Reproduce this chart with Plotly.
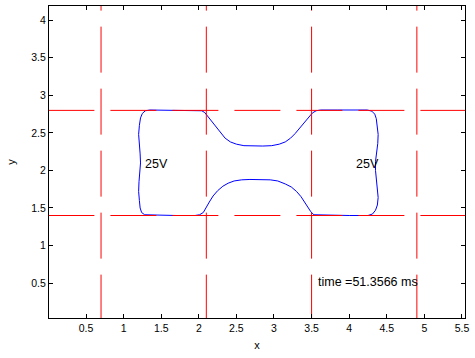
import plotly.graph_objects as go

# electrode (red dashed) line positions
electrode_x = [0.7, 2.1, 3.5, 4.9]
electrode_y = [1.4, 2.8]
line_span_x = [0.0, 5.6]
line_span_y = [0.0, 4.2]

# blue interface boundary (closed loop)
boundary_x = [1.35, 1.60, 1.85, 1.98,
              2.04, 2.08, 2.12, 2.17, 2.23, 2.29, 2.35, 2.42, 2.50, 2.60, 2.72, 2.85, 2.97, 3.07, 3.15, 3.22,
              3.28, 3.35, 3.41, 3.46, 3.51, 3.56, 3.62,
              3.85, 4.10, 4.24,
              4.30, 4.34, 4.36,
              4.375, 4.385, 4.38, 4.36, 4.35, 4.35, 4.36, 4.38, 4.385, 4.375, 4.35, 4.31, 4.25,
              4.00, 3.75, 3.60,
              3.53, 3.49, 3.45, 3.41, 3.36, 3.30, 3.23, 3.15, 3.05, 2.95, 2.82, 2.68, 2.57, 2.47, 2.39, 2.32,
              2.25, 2.19, 2.14, 2.10, 2.06, 2.01, 1.95,
              1.70, 1.45, 1.34,
              1.28, 1.24, 1.22,
              1.21, 1.20, 1.205, 1.22, 1.225, 1.22, 1.21, 1.20, 1.21, 1.225, 1.25, 1.29, 1.35]
boundary_y = [2.805, 2.805, 2.805, 2.805,
              2.795, 2.77, 2.72, 2.65, 2.57, 2.50, 2.43, 2.38, 2.35, 2.33, 2.325, 2.325, 2.33, 2.35, 2.38, 2.43,
              2.49, 2.57, 2.64, 2.71, 2.765, 2.795, 2.805,
              2.805, 2.805, 2.805,
              2.79, 2.75, 2.69,
              2.60, 2.48, 2.36, 2.24, 2.12, 2.00, 1.88, 1.76, 1.64, 1.54, 1.47, 1.42, 1.40,
              1.40, 1.40, 1.40,
              1.41, 1.45, 1.51, 1.58, 1.65, 1.72, 1.78, 1.82, 1.86, 1.875, 1.88, 1.88, 1.875, 1.86, 1.83, 1.79,
              1.73, 1.66, 1.58, 1.50, 1.44, 1.41, 1.40,
              1.40, 1.40, 1.40,
              1.41, 1.44, 1.50,
              1.60, 1.72, 1.85, 1.98, 2.10, 2.22, 2.35, 2.48, 2.60, 2.70, 2.76, 2.795, 2.805]

label_texts = ["25V", "25V", "time =51.3566 ms"]
label_x = [1.26, 4.06, 3.565]
label_y = [2.08, 2.09, 0.51]

x_ticks = [0.5, 1, 1.5, 2, 2.5, 3, 3.5, 4, 4.5, 5, 5.5]
y_ticks = [0.5, 1, 1.5, 2, 2.5, 3, 3.5, 4]

FONT = "Liberation Sans, Arial, sans-serif"

fig = go.Figure()

fig.add_trace(go.Scatter(x=boundary_x, y=boundary_y, mode="lines",
                         line=dict(color="#0000ff", width=1), hoverinfo="skip"))

dash = "46px,16px"
for yy in electrode_y:
    fig.add_trace(go.Scatter(x=line_span_x, y=[yy, yy], mode="lines",
                             line=dict(color="#ff0000", width=1, dash=dash), hoverinfo="skip"))
for xx in electrode_x:
    fig.add_trace(go.Scatter(x=[xx, xx], y=line_span_y, mode="lines",
                             line=dict(color="#ff0000", width=1, dash=dash), hoverinfo="skip"))

for t, xx, yy in zip(label_texts, label_x, label_y):
    fig.add_annotation(x=xx, y=yy, text=t, showarrow=False, xanchor="left", yanchor="middle",
                       font=dict(family=FONT, size=12.5, color="#000"))

axis_common = dict(showgrid=False, zeroline=False, showline=True, linecolor="black", linewidth=1,
                   mirror="ticks", ticks="inside", ticklen=4, tickcolor="black", tickwidth=1,
                   automargin=False,
                   tickfont=dict(family=FONT, size=10.5, color="#000"))

fig.update_layout(
    width=475, height=358,
    margin=dict(l=49, r=10, t=6, b=40),
    paper_bgcolor="white", plot_bgcolor="white",
    showlegend=False,
    xaxis=dict(range=[0.008, 5.54], tickvals=x_ticks, ticktext=[str(v) for v in x_ticks],
               title=dict(text="x", font=dict(family=FONT, size=11, color="#000"), standoff=8),
               **axis_common),
    yaxis=dict(range=[0.035, 4.19], tickvals=y_ticks, ticktext=[str(v) for v in y_ticks],
               title=dict(text="y", font=dict(family=FONT, size=11, color="#000"), standoff=13),
               **axis_common),
)

fig.write_html("out.html", config={"displayModeBar": False},
               post_script="document.body.style.margin='0';document.body.style.overflow='hidden';")
